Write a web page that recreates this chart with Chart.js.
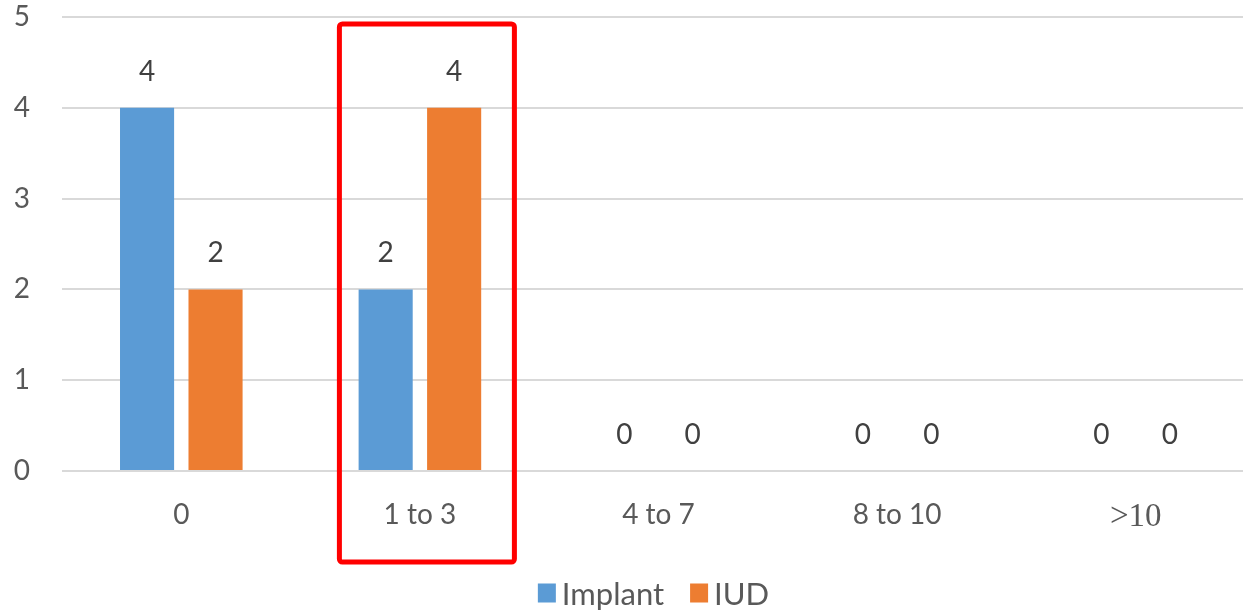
<!DOCTYPE html>
<html>
<head>
<meta charset="utf-8">
<script src="https://cdn.jsdelivr.net/npm/chart.js@4/dist/chart.umd.min.js"></script>
<style>
  html, body { margin: 0; padding: 0; background: #ffffff; overflow: hidden; }
  #wrap { position: relative; width: 1255px; height: 614px; }
</style>
</head>
<body>
<div id="wrap"><canvas id="chart"></canvas></div>
<script>
// Number of follow-up visits, grouped by bucket
const categories = ['0', '1 to 3', '4 to 7', '8 to 10', '>10'];
const implantValues = [4, 2, 0, 0, 0];
const iudValues = [2, 4, 0, 0, 0];
const yTicks = [0, 1, 2, 3, 4, 5];

const FONT = 'Lato, "Open Sans", sans-serif';

// Writes each bar's value above its top
const valueLabels = {
  id: 'valueLabels',
  afterDatasetsDraw(chart) {
    const ctx = chart.ctx;
    ctx.save();
    ctx.font = '28px ' + FONT;
    ctx.fillStyle = '#404040';
    ctx.textAlign = 'center';
    ctx.textBaseline = 'middle';
    chart.data.datasets.forEach((ds, i) => {
      chart.getDatasetMeta(i).data.forEach((bar, j) => {
        ctx.fillText(String(ds.data[j]), bar.x, bar.y - 36);
      });
    });
    ctx.restore();
  }
};

// Legend row under the axis: colour square, small gap, series name
const legendRow = {
  id: 'legendRow',
  afterDraw(chart) {
    const ctx = chart.ctx;
    const area = chart.chartArea;
    const box = 18, boxH = 19, gap = 6, itemGap = 26;
    ctx.save();
    ctx.font = '31px ' + FONT;
    const items = chart.data.datasets.map(ds => ({
      text: ds.label,
      color: ds.backgroundColor,
      w: ctx.measureText(ds.label).width
    }));
    const total = items.reduce((s, it) => s + box + gap + it.w, 0) + itemGap * (items.length - 1);
    let x = (area.left + area.right) / 2 - 5 - total / 2;
    const cy = 594;
    ctx.textBaseline = 'middle';
    ctx.textAlign = 'left';
    items.forEach(it => {
      ctx.fillStyle = it.color;
      ctx.fillRect(x, cy - boxH / 2 - 1, box, boxH);
      ctx.fillStyle = '#595959';
      ctx.fillText(it.text, x + box + gap, cy + 1);
      x += box + gap + it.w + itemGap;
    });
    ctx.restore();
  }
};

// Red frame around the "1 to 3" group
const highlight = {
  id: 'highlight',
  afterDraw(chart) {
    const x = chart.scales.x;
    const cx = x.getPixelForValue(1) + 7;
    const ctx = chart.ctx;
    ctx.save();
    ctx.strokeStyle = '#ff0000';
    ctx.lineWidth = 5;
    ctx.lineJoin = 'round';
    ctx.beginPath();
    ctx.roundRect(cx - 87.5, 24, 175, 538, 3);
    ctx.stroke();
    ctx.restore();
  }
};

new Chart(document.getElementById('chart'), {
  type: 'bar',
  data: {
    labels: categories,
    datasets: [
      {
        label: 'Implant',
        data: implantValues,
        backgroundColor: '#5b9bd5',
        categoryPercentage: 0.574,
        barPercentage: 0.79
      },
      {
        label: 'IUD',
        data: iudValues,
        backgroundColor: '#ed7d31',
        categoryPercentage: 0.574,
        barPercentage: 0.79
      }
    ]
  },
  options: {
    responsive: true,
    maintainAspectRatio: false,
    animation: false,
    layout: { padding: { top: 17, left: 0, right: 0, bottom: 48 } },
    plugins: {
      tooltip: { enabled: false },
      legend: { display: false }
    },
    scales: {
      x: {
        grid: { display: false, drawTicks: false },
        border: { display: false },
        ticks: {
          padding: 27,
          color: '#595959',
          font: (c) => (categories[c.index] === '>10'
            ? { family: '"Liberation Serif", serif', size: 33 }
            : { family: FONT, size: 28 })
        },
        afterFit(scale) { scale.height = 95; }
      },
      y: {
        min: 0,
        max: 5,
        afterBuildTicks(scale) { scale.ticks = yTicks.map(v => ({ value: v })); },
        grid: { color: '#d9d9d9', lineWidth: 2, drawTicks: false },
        border: { display: false },
        ticks: {
          padding: 32,
          color: '#595959',
          font: { family: FONT, size: 28 }
        },
        afterFit(scale) {
          scale.width = 62;
          scale.paddingTop = 0;
          scale.paddingBottom = 0;
        }
      }
    }
  },
  plugins: [valueLabels, highlight, legendRow]
});
</script>
</body>
</html>
